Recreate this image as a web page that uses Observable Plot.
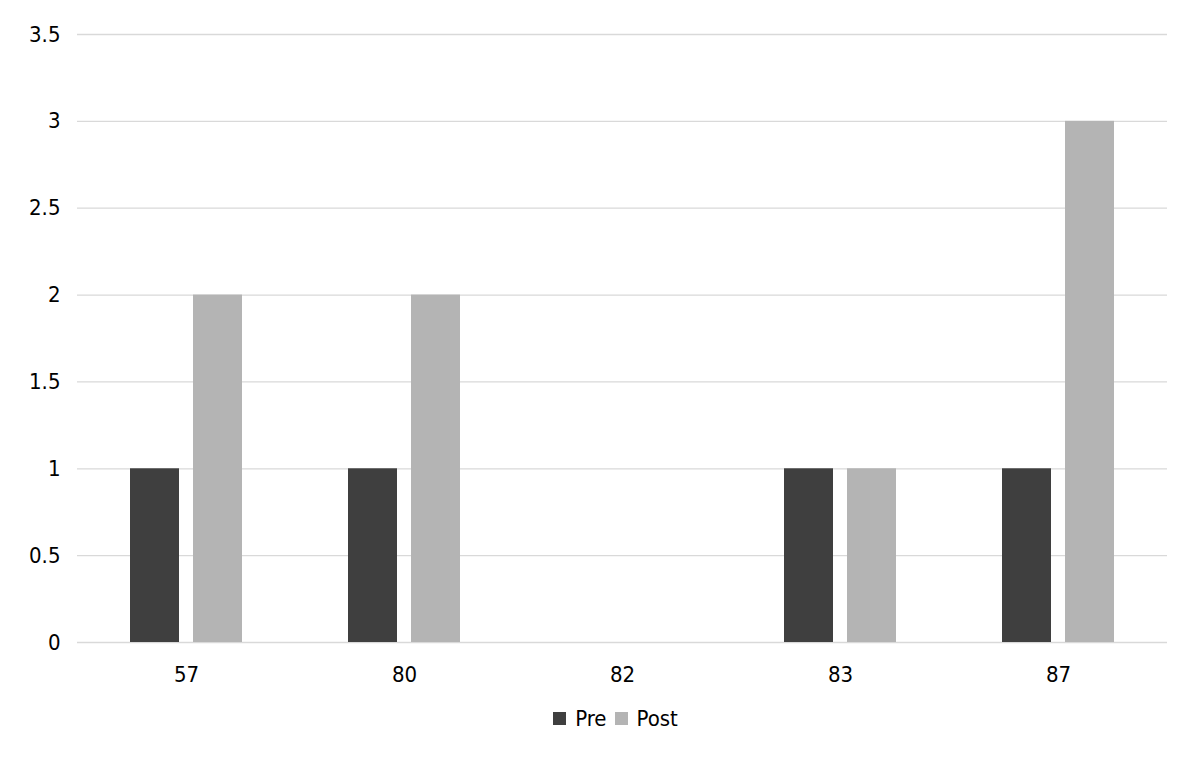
<!DOCTYPE html>
<html>
<head>
<meta charset="utf-8">
<script src="https://cdn.jsdelivr.net/npm/d3@7"></script>
<script src="https://cdn.jsdelivr.net/npm/@observablehq/plot@0.6"></script>
<style>
  html, body { margin: 0; padding: 0; background: #fff; }
  body { font-family: "Liberation Sans Narrow", "DejaVu Sans Condensed", sans-serif; }
  #legend { display: flex; justify-content: center; align-items: center; gap: 8px; font-size: 22px; color: #000; margin-top: 16px; padding-right: 170px; padding-left: 202px; }
  .item { display: flex; align-items: center; gap: 9px; }
  .sw { width: 13px; height: 13px; display: inline-block; }
</style>
</head>
<body>
<div id="chart"></div>
<div id="legend"></div>
<script>
const categories = ["57", "80", "82", "83", "87"];
const series = ["Pre", "Post"];
const preValues = [1, 1, 0, 1, 1];
const postValues = [2, 2, 0, 1, 3];
const yTicks = [0, 0.5, 1, 1.5, 2, 2.5, 3, 3.5];
const colors = ["#3f3f3f", "#b4b4b4"];

const data = [];
categories.forEach((c, i) => {
  data.push({cat: c, series: "Pre", value: preValues[i]});
  data.push({cat: c, series: "Post", value: postValues[i]});
});

const font = '"Liberation Sans Narrow", "DejaVu Sans Condensed", sans-serif';

const chart = Plot.plot({
  width: 1199,
  height: 690,
  marginTop: 34,
  marginBottom: 48,
  marginLeft: 77,
  marginRight: 32,
  style: {fontFamily: font, fontSize: "22px", color: "#000", background: "#fff"},
  fx: {domain: categories, padding: 0, label: null, axis: "bottom", tickSize: 0, tickPadding: 24},
  x: {domain: series, paddingInner: 0.2222, paddingOuter: 0.841, axis: null},
  y: {domain: [0, 3.5], ticks: yTicks, tickFormat: d => String(d), label: null, tickSize: 0, tickPadding: 17},
  color: {domain: series, range: colors},
  marks: [
    Plot.ruleY(yTicks, {stroke: "#d9d9d9", strokeWidth: 1.3}),
    Plot.barY(data, {fx: "cat", x: "series", y: "value", fill: "series"}),
    Plot.axisY({ticks: yTicks, tickSize: 0, tickPadding: 17, tickFormat: d => String(d), label: null, fontSize: 22})
  ]
});
document.getElementById("chart").appendChild(chart);

const legend = document.getElementById("legend");
series.forEach((s, i) => {
  const item = document.createElement("span");
  item.className = "item";
  const sw = document.createElement("span");
  sw.className = "sw";
  sw.style.background = colors[i];
  item.appendChild(sw);
  const t = document.createElement("span");
  t.textContent = s;
  item.appendChild(t);
  legend.appendChild(item);
});
</script>
</body>
</html>
